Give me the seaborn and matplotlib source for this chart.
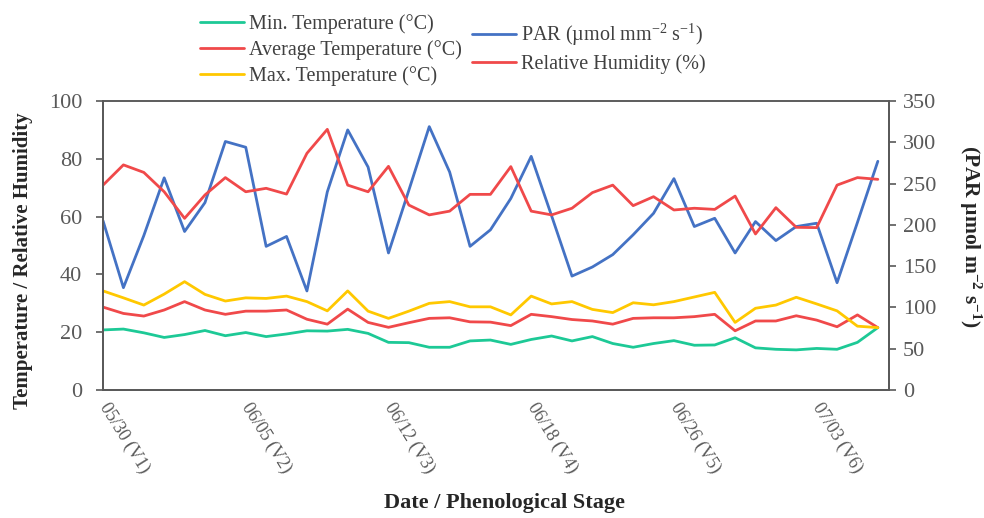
import numpy as np
import pandas as pd
import matplotlib
matplotlib.use("Agg")
import matplotlib.pyplot as plt
import seaborn as sns

# daily weather, 05/30 .. 07/07
t_min = [20.8, 21.1, 19.8, 18.2, 19.2, 20.6, 18.8, 19.9, 18.5, 19.4,
         20.5, 20.4, 21.0, 19.6, 16.5, 16.4, 14.8, 14.8, 17.0, 17.3,
         15.8, 17.5, 18.7, 17.0, 18.5, 16.1, 14.8, 16.1, 17.1, 15.5,
         15.6, 18.1, 14.6, 14.1, 13.9, 14.4, 14.1, 16.5, 21.6]
t_avg = [28.7, 26.5, 25.6, 27.7, 30.6, 27.7, 26.2, 27.3, 27.3, 27.7,
         24.5, 22.8, 28.0, 23.4, 21.7, 23.3, 24.8, 25.0, 23.6, 23.5,
         22.3, 26.2, 25.4, 24.4, 23.9, 22.8, 24.8, 25.0, 25.0, 25.4,
         26.2, 20.5, 23.9, 23.9, 25.7, 24.2, 21.9, 26.0, 21.6]
t_max = [34.3, 31.9, 29.4, 33.2, 37.5, 33.1, 30.8, 31.9, 31.7, 32.5,
         30.6, 27.4, 34.3, 27.3, 24.8, 27.3, 30.0, 30.6, 28.8, 28.8,
         26.0, 32.5, 29.8, 30.6, 27.9, 26.8, 30.2, 29.5, 30.6, 32.2,
         33.8, 23.4, 28.3, 29.4, 32.1, 29.8, 27.4, 22.1, 21.6]
rh = [70.9, 77.9, 75.3, 68.6, 59.4, 67.5, 73.5, 68.6, 69.8, 67.8,
      81.9, 90.2, 70.9, 68.6, 77.4, 64.0, 60.6, 61.9, 67.7, 67.7,
      77.3, 61.9, 60.6, 62.9, 68.3, 70.9, 63.8, 66.9, 62.3, 62.9,
      62.5, 67.1, 54.0, 63.1, 56.3, 56.2, 70.9, 73.5, 72.9]
par = [205, 124, 187, 257, 192, 227, 301, 294, 174, 186,
       120, 240, 315, 270, 166, 242, 319, 264, 174, 194,
       232, 283, 211, 138, 149, 164, 188, 214, 256, 198,
       208, 166, 204, 181, 198, 202, 130, 203, 277]
stage_labels = ["05/30 (V1)", "06/05 (V2)", "06/12 (V3)", "06/18 (V4)",
                "06/26 (V5)", "07/03 (V6)"]
tick_every = 7

GREEN = "#1DC996"
RED = "#F0494A"
YELLOW = "#FFC800"
BLUE = "#4472C4"
GREY = "#595959"

sns.set_style("white")
plt.rcParams["font.family"] = ["Liberation Serif", "DejaVu Serif"]
plt.rcParams["mathtext.default"] = "regular"

day = np.arange(len(t_min))
df = pd.DataFrame({"day": day, "tmin": t_min, "tavg": t_avg, "tmax": t_max,
                   "rh": rh, "par": par})

fig = plt.figure(figsize=(9.84, 5.18), dpi=100)
ax = fig.add_axes([0.1047, 0.247, 0.7988, 0.558])
ax2 = ax.twinx()

lw = 2.0
sns.lineplot(data=df, x="day", y="tmin", ax=ax, color=GREEN, lw=lw,
             label="Min. Temperature (°C)", legend=False)
sns.lineplot(data=df, x="day", y="tavg", ax=ax, color=RED, lw=lw,
             label="Average Temperature (°C)", legend=False)
sns.lineplot(data=df, x="day", y="tmax", ax=ax, color=YELLOW, lw=lw,
             label="Max. Temperature (°C)", legend=False)
sns.lineplot(data=df, x="day", y="par", ax=ax2, color=BLUE, lw=lw,
             label="PAR (µmol mm$^{-2}$ s$^{-1}$)", legend=False)
sns.lineplot(data=df, x="day", y="rh", ax=ax2, color=RED, lw=lw,
             label="Relative Humidity (%)", legend=False)
# humidity is read on the left (0-100) scale: convert to right axis units
ax2.lines[-1].set_ydata(np.array(rh) * 3.5)

ax.set_ylim(0, 100)
ax.set_yticks(np.arange(0, 101, 20))
ax2.set_ylim(0, 350)
ax2.set_yticks(np.arange(0, 351, 50))
ax.set_xlim(0, len(day) - 0.45)

ticks = day[::tick_every][:len(stage_labels)]
ax.set_xticks(ticks)
ax.set_xticklabels(stage_labels, rotation=-58, ha="left", va="center",
                   rotation_mode="anchor", fontsize=13)

for a in (ax, ax2):
    for s in a.spines.values():
        s.set_color(GREY)
        s.set_linewidth(1.3)
    a.tick_params(colors=GREY, labelsize=16, length=5, width=1.2,
                  direction="out", pad=7)
ax.tick_params(axis="x", labelsize=13, pad=5)
ax.tick_params(axis="y", left=True, pad=10)
ax2.tick_params(axis="y", right=True, pad=5)
ax.spines["top"].set_color("#9a9a9a")

ax.set_xlabel("Date / Phenological Stage", fontsize=16, fontweight="bold")
ax.xaxis.set_label_coords(0.511, -0.355)
ax.set_ylabel("Temperature / Relative Humidity", fontsize=15,
              fontweight="bold")
ax.yaxis.set_label_coords(-0.089, 0.446)
ax2.set_ylabel("(PAR µmol m$^{-2}$ s$^{-1}$)", fontsize=15.5,
               fontweight="bold", rotation=270, va="center")
ax2.yaxis.set_label_coords(1.103, 0.533)

h1, lab1 = ax.get_legend_handles_labels()
h2, lab2 = ax2.get_legend_handles_labels()
leg_kw = dict(frameon=False, fontsize=14.5, handlelength=2.2,
              handletextpad=0.25, labelspacing=0.3, borderpad=0,
              labelcolor="#404040", loc="upper left")
fig.legend(h1, lab1, bbox_to_anchor=(0.193, 0.992), **leg_kw)
fig.legend(h2, lab2, bbox_to_anchor=(0.469, 0.977), **leg_kw)

fig.savefig("out.png", dpi=100)
